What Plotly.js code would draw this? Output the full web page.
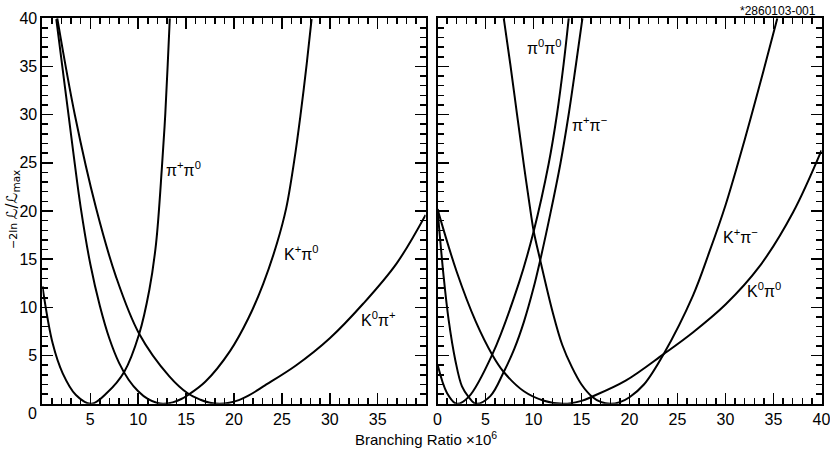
<!DOCTYPE html>
<html>
<head>
<meta charset="utf-8">
<script src="https://cdn.plot.ly/plotly-3.0.1.min.js"></script>
<style>html,body{margin:0;padding:0;background:#fff;}#chart{width:830px;height:452px;}</style>
</head>
<body>
<div id="chart"></div>
<script>
// ---- Left panel: B -> pi+pi0, K+pi0, K0pi+ ----
const pipPi0X = [0, 1.07, 2.12, 3.5, 5.1, 6.8, 8.55, 10.1, 11.16, 11.86, 12.48, 12.83, 13.08, 13.3];
const pipPi0Y = [12.2, 6.27, 3.16, 0.91, 0, 1.2, 3.33, 7.24, 11.8, 16.6, 24.6, 30.1, 35.2, 40];

const kpPi0X = [1.45, 2.05, 2.71, 3.3, 4, 5, 6, 7, 8, 9, 10, 11, 12, 12.6, 13.6, 14.5, 15.17, 17, 19.6, 21.5, 23.06, 24.5, 25.45, 26.3, 26.96, 27.59, 28.1];
const kpPi0Y = [39.9, 35.2, 30.1, 25.5, 20.35, 14.5, 10.15, 6.75, 4.25, 2.5, 1.3, 0.5, 0.08, 0, 0.15, 0.5, 0.89, 2.28, 5.49, 8.87, 12.47, 16.7, 20.3, 25.3, 30.1, 35.26, 39.9];

const k0PipX = [1.55, 3.4, 5.6, 7.68, 10.1, 13.25, 15.17, 16.5, 17.5, 18.5, 19.5, 20.5, 21.5, 22.2, 23.06, 26.5, 30, 33.5, 37, 40];
const k0PipY = [40, 29.9, 20.3, 13.2, 7.27, 2.85, 1.09, 0.42, 0.1, 0, 0.1, 0.38, 0.85, 1.25, 1.8, 4.0, 6.8, 10.4, 14.6, 19.6];

// ---- Right panel: B -> pi0pi0, pi+pi-, K+pi-, K0pi0 ----
const pi0Pi0X = [0, 1, 2, 3.25, 5.7, 8.5, 10.02, 11.58, 12.45, 13.14, 13.67];
const pi0Pi0Y = [4.1, 1.1, 0, 0.72, 5.1, 12.6, 17.9, 24.9, 30.06, 35.25, 40];

const pipPimX = [0, 0.64, 1.16, 1.86, 2.55, 3.25, 4.0, 5.5, 6.9, 8, 9, 10, 10.7, 11.75, 12.8, 13.67, 14.43, 15.1];
const pipPimY = [20.2, 13.2, 8.7, 4.5, 1.8, 0.7, 0, 0.8, 3.3, 5.7, 8.5, 12.0, 14.9, 19.7, 24.9, 30.06, 35.25, 40];

const kpPimX = [6.9, 7.58, 8.28, 8.98, 9.7, 10.02, 10.7, 12, 13, 14, 15, 16.1, 17, 18, 19, 20, 21.5, 23.55, 26.6, 28.3, 30, 32, 34, 35.4];
const kpPimY = [40, 35.25, 30.06, 24.9, 19.9, 17.9, 14.9, 9.5, 6.1, 3.8, 2.0, 0.74, 0.2, 0, 0.17, 0.68, 2.0, 5.15, 11.2, 15.7, 20.6, 27.4, 34.7, 40];

const k0Pi0X = [0, 2, 4, 5.7, 6.9, 9, 11, 13.1, 15, 16.1, 19.6, 23.55, 26.6, 30, 33.5, 37, 40];
const k0Pi0Y = [20.2, 13.7, 8.5, 5.1, 3.3, 1.3, 0.35, 0, 0.3, 0.74, 2.4, 5.15, 7.4, 10.3, 14.2, 19.8, 26.3];

// tick labels
const majorTicks = [0, 5, 10, 15, 20, 25, 30, 35, 40];
const leftXText = ['', '5', '10', '15', '20', '25', '30', '35', ''];
const rightXText = ['0', '5', '10', '15', '20', '25', '30', '35', '40'];
const yText = ['', '5', '10', '15', '20', '25', '30', '35', '40'];

// curve labels
const labelText = ['π<sup>+</sup>π<sup>0</sup>', 'K<sup>+</sup>π<sup>0</sup>', 'K<sup>0</sup>π<sup>+</sup>',
                   'π<sup>0</sup>π<sup>0</sup>', 'π<sup>+</sup>π<sup>−</sup>', 'K<sup>+</sup>π<sup>−</sup>', 'K<sup>0</sup>π<sup>0</sup>'];
const labelX = [12.7, 25.0, 33.0, 9.15, 13.8, 29.5, 32.0];
const labelY = [24.4, 15.6, 8.8, 37.0, 29.0, 17.4, 11.8];
const labelPanel = ['x', 'x', 'x', 'x2', 'x2', 'x2', 'x2'];

const lineStyle = {color: '#000', width: 2, shape: 'spline', smoothing: 1};
function tr(x, y, xa, ya) {
  return {x: x, y: y, xaxis: xa, yaxis: ya, mode: 'lines', line: lineStyle, hoverinfo: 'skip', showlegend: false};
}
const data = [
  tr(pipPi0X, pipPi0Y, 'x', 'y'),
  tr(kpPi0X, kpPi0Y, 'x', 'y'),
  tr(k0PipX, k0PipY, 'x', 'y'),
  tr(pi0Pi0X, pi0Pi0Y, 'x2', 'y2'),
  tr(pipPimX, pipPimY, 'x2', 'y2'),
  tr(kpPimX, kpPimY, 'x2', 'y2'),
  tr(k0Pi0X, k0Pi0Y, 'x2', 'y2')
];

const tickFont = {family: 'Liberation Sans, Arial, sans-serif', size: 16, color: '#000'};
function axisBase(extra) {
  return Object.assign({
    range: [0, 40], showgrid: false, zeroline: false,
    showline: true, linecolor: '#000', linewidth: 2, mirror: 'allticks',
    ticks: 'inside', ticklen: 11, tickwidth: 1.5, tickcolor: '#000',
    tickmode: 'array', tickvals: majorTicks, tickfont: tickFont,
    ticklabeloverflow: 'allow',
    minor: {ticks: 'inside', ticklen: 6, tickwidth: 1.5, tickcolor: '#000', dtick: 1, tick0: 0, showgrid: false},
    fixedrange: true
  }, extra);
}

const annotations = labelText.map((t, i) => ({
  text: t, x: labelX[i], y: labelY[i], xref: labelPanel[i], yref: labelPanel[i] === 'x' ? 'y' : 'y2',
  xanchor: 'left', yanchor: 'middle', showarrow: false,
  font: {family: 'Liberation Sans, Arial, sans-serif', size: 16, color: '#000'}
}));
annotations.push({
  text: '0', x: 32 / 830, y: 1 - 413 / 452, xref: 'paper', yref: 'paper',
  xanchor: 'center', yanchor: 'middle', showarrow: false, font: tickFont
});
annotations.push({
  text: 'Branching Ratio ×10<sup>6</sup>', x: 426 / 830, y: 1 - 438 / 452, xref: 'paper', yref: 'paper',
  xanchor: 'center', yanchor: 'middle', showarrow: false,
  font: {family: 'Liberation Sans, Arial, sans-serif', size: 15, color: '#000'}
});
annotations.push({
  text: '<span style="font-size:11px">−2ln </span>ℒ/ℒ<sub>max</sub>', x: 13 / 830, y: 1 - 210 / 452, xref: 'paper', yref: 'paper',
  xanchor: 'center', yanchor: 'middle', showarrow: false, textangle: -90,
  font: {family: 'DejaVu Sans, sans-serif', size: 15, color: '#000'}
});
annotations.push({
  text: '*2860103-001', x: 818 / 830, y: 1 - 11 / 452, xref: 'paper', yref: 'paper',
  xanchor: 'right', yanchor: 'middle', showarrow: false,
  font: {family: 'Liberation Sans Narrow, Liberation Sans, Arial, sans-serif', size: 12, color: '#000'}
});

const yDom = [(452 - 403.8) / 452, (452 - 18.2) / 452];
const layout = {
  width: 830, height: 452,
  margin: {l: 0, r: 0, t: 0, b: 0},
  paper_bgcolor: '#fff', plot_bgcolor: '#fff',
  showlegend: false,
  xaxis: axisBase({domain: [42.4 / 830, 425.6 / 830], anchor: 'y', ticktext: leftXText}),
  yaxis: axisBase({domain: yDom, anchor: 'x', ticktext: yText}),
  xaxis2: axisBase({domain: [437.5 / 830, 821.5 / 830], anchor: 'y2', ticktext: rightXText}),
  yaxis2: axisBase({domain: yDom, anchor: 'x2', showticklabels: false}),
  annotations: annotations
};

Plotly.newPlot('chart', data, layout, {displayModeBar: false, staticPlot: true});
</script>
</body>
</html>
